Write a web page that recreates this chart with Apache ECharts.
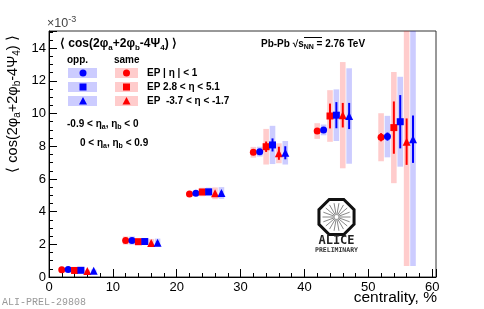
<!DOCTYPE html>
<html><head><meta charset="utf-8">
<script src="https://cdn.jsdelivr.net/npm/echarts@6/dist/echarts.min.js"></script>
<style>html,body{margin:0;padding:0;background:#fff}#c{width:484px;height:309px}</style>
</head><body><div id="c"></div>
<script>
// ---------------- data ----------------
const xTickLabels = ['0','10','20','30','40','50','60'];
const yTickLabels = ['0','2','4','6','8','10','12','14'];

// same-sign (red): EP |eta|<1 circles, EP 2.8<eta<5.1 squares, EP -3.7<eta<-1.7 triangles
const xSameEta1 = [2, 12, 22, 32, 42, 52];
const ySameEta1 = [0.44, 2.23, 5.08, 7.63, 8.93, 8.55];
const statSameEta1 = [0.02, 0.04, 0.06, 0.08, 0.15, 0.25];
const sysSameEta1 = [0.08, 0.25, 0.06, 0.33, 0.48, 1.47];

const xOppEta1 = [3, 13, 23, 33, 43, 53];
const yOppEta1 = [0.46, 2.23, 5.12, 7.67, 9.0, 8.59];
const statOppEta1 = [0.02, 0.04, 0.06, 0.08, 0.15, 0.25];
const sysOppEta1 = [0.08, 0.25, 0.06, 0.3, 0.33, 1.27];

const xSameEta2 = [4, 14, 24, 34, 44, 54];
const ySameEta2 = [0.4, 2.16, 5.2, 7.97, 9.85, 9.14];
const statSameEta2 = [0.04, 0.07, 0.1, 0.32, 0.76, 1.6];
const sysSameEta2 = [0.08, 0.2, 0.26, 1.09, 1.58, 3.4];

const xOppEta2 = [5, 15, 25, 35, 45, 55];
const yOppEta2 = [0.41, 2.17, 5.21, 8.08, 9.9, 9.5];
const statOppEta2 = [0.04, 0.07, 0.1, 0.4, 0.8, 1.63];
const sysOppEta2 = [0.08, 0.2, 0.26, 1.17, 1.58, 2.75];

const xSameEta3 = [6, 16, 26, 36, 46, 56];
const ySameEta3 = [0.36, 2.08, 5.12, 7.57, 9.9, 8.28];
const statSameEta3 = [0.05, 0.1, 0.12, 0.4, 0.75, 1.42];
const sysSameEta3 = [0.08, 0.25, 0.36, 0.61, 3.25, 7.6];

const xOppEta3 = [7, 17, 27, 37, 47, 57];
const yOppEta3 = [0.38, 2.1, 5.14, 7.6, 9.85, 8.43];
const statOppEta3 = [0.05, 0.1, 0.12, 0.4, 0.8, 1.45];
const sysOppEta3 = [0.08, 0.25, 0.36, 0.72, 2.92, 7.75];

// ---------------- chart ----------------
const FF = "'Liberation Sans', Arial, Helvetica, sans-serif";
const RED = '#ff0000', BLUE = '#0000ff';
const RED_BOX = 'rgba(255,0,0,0.2)', BLUE_BOX = 'rgba(0,0,255,0.2)';

const groups = [
  {x: xSameEta1, y: ySameEta1, stat: statSameEta1, sys: sysSameEta1, c: RED, box: RED_BOX, sym: 'circle', size: 7},
  {x: xOppEta1, y: yOppEta1, stat: statOppEta1, sys: sysOppEta1, c: BLUE, box: BLUE_BOX, sym: 'circle', size: 7},
  {x: xSameEta2, y: ySameEta2, stat: statSameEta2, sys: sysSameEta2, c: RED, box: RED_BOX, sym: 'rect', size: 7},
  {x: xOppEta2, y: yOppEta2, stat: statOppEta2, sys: sysOppEta2, c: BLUE, box: BLUE_BOX, sym: 'rect', size: 7},
  {x: xSameEta3, y: ySameEta3, stat: statSameEta3, sys: sysSameEta3, c: RED, box: RED_BOX, sym: 'triangle', size: 8},
  {x: xOppEta3, y: yOppEta3, stat: statOppEta3, sys: sysOppEta3, c: BLUE, box: BLUE_BOX, sym: 'triangle', size: 8}
];

const series = [];
groups.forEach(g => {
  series.push({
    type: 'custom', clip: true, z: 1, silent: true,
    data: g.x.map((x, i) => [x, g.y[i], g.sys[i]]),
    renderItem(params, api) {
      const x = api.value(0), y = api.value(1), e = api.value(2);
      const p1 = api.coord([x - 0.44, y + e]);
      const p2 = api.coord([x + 0.44, y - e]);
      return {type: 'rect', shape: {x: p1[0], y: p1[1], width: p2[0] - p1[0], height: p2[1] - p1[1]},
              style: {fill: g.box}};
    }
  });
});
groups.forEach(g => {
  series.push({
    type: 'custom', clip: true, z: 2, silent: true,
    data: g.x.map((x, i) => [x, g.y[i], g.stat[i]]),
    renderItem(params, api) {
      const x = api.value(0), y = api.value(1), e = api.value(2);
      const p1 = api.coord([x, y + e]);
      const p2 = api.coord([x, y - e]);
      return {type: 'line', shape: {x1: p1[0], y1: p1[1], x2: p2[0], y2: p2[1]},
              style: {stroke: g.c, lineWidth: 2}};
    }
  });
});
groups.forEach(g => {
  series.push({
    type: 'scatter', z: 3, silent: true, clip: true,
    symbol: g.sym, symbolSize: g.size,
    itemStyle: {color: g.c, opacity: 1},
    data: g.x.map((x, i) => [x, g.y[i]])
  });
});

function sub(main, s) { return main; }
const richB10 = {
  n: {fontSize: 10, fontWeight: 'bold', fontFamily: FF, fill: '#000'},
  s: {fontSize: 7, fontWeight: 'bold', fontFamily: FF, fill: '#000', padding: [6, 0, 0, 0]}
};
const richB12 = {
  n: {fontSize: 12, fontWeight: 'bold', fontFamily: FF, fill: '#000'},
  s: {fontSize: 8, fontWeight: 'bold', fontFamily: FF, fill: '#000', padding: [7, 0, 0, 0]}
};
const richT = {
  n: {fontSize: 14.5, fontFamily: FF, fill: '#000'},
  s: {fontSize: 10, fontFamily: FF, fill: '#000', padding: [9, 0, 0, 0]}
};

function txt(x, y, text, rich, extra) {
  return Object.assign({type: 'text', x: x, y: y, silent: true,
    style: {text: text, rich: rich, textAlign: 'left', textVerticalAlign: 'middle'}}, extra || {});
}
function bold(x, y, text, size) {
  return {type: 'text', x: x, y: y, silent: true,
    style: {text: text, font: 'bold ' + size + 'px ' + FF, fill: '#000', textAlign: 'left', textVerticalAlign: 'middle'}};
}

const graphic = [];
// y-axis title
graphic.push(txt(13, 104, '{n|⟨ cos(2φ}{s|a}{n|+2φ}{s|b}{n|-4Ψ}{s|4}{n|) ⟩}', richT,
  {rotation: Math.PI / 2, style: {text: '{n|⟨ cos(2φ}{s|a}{n|+2φ}{s|b}{n|-4Ψ}{s|4}{n|) ⟩}', rich: richT, textAlign: 'center', textVerticalAlign: 'middle'}}));
// x10^-3
graphic.push({type: 'text', x: 47, y: 24, silent: true,
  style: {text: '{n|×10}{p|-3}', rich: {n: {fontSize: 12.5, fontFamily: FF, fill: '#444'}, p: {fontSize: 9, fontFamily: FF, fill: '#444', padding: [0, 0, 8, 0]}},
          textAlign: 'left', textVerticalAlign: 'middle'}});
// header
graphic.push(txt(60, 44, '{n|⟨ cos(2φ}{s|a}{n|+2φ}{s|b}{n|-4Ψ}{s|4}{n|) ⟩}', richB12));
graphic.push(bold(67, 60, 'opp.', 10));
graphic.push(bold(114, 60, 'same', 10));
// legend rows
const rowsY = [73, 87, 101];
const syms = ['circle', 'rect', 'tri'];
rowsY.forEach((ry, i) => {
  graphic.push({type: 'rect', silent: true, shape: {x: 68, y: ry - 5, width: 29, height: 10}, style: {fill: BLUE_BOX}});
  graphic.push({type: 'rect', silent: true, shape: {x: 115, y: ry - 5, width: 23, height: 10}, style: {fill: RED_BOX}});
  [[83, BLUE], [126.5, RED]].forEach(([cx, col]) => {
    if (syms[i] === 'circle') graphic.push({type: 'circle', silent: true, shape: {cx: cx, cy: ry, r: 3.5}, style: {fill: col}});
    else if (syms[i] === 'rect') graphic.push({type: 'rect', silent: true, shape: {x: cx - 3.5, y: ry - 3.5, width: 7, height: 7}, style: {fill: col}});
    else graphic.push({type: 'polygon', silent: true, shape: {points: [[cx, ry - 4], [cx + 4, ry + 3.5], [cx - 4, ry + 3.5]]}, style: {fill: col}});
  });
});
graphic.push(txt(147, 73, '{n|EP | η | < 1}', richB10));
graphic.push(txt(147, 87, '{n|EP 2.8 < η < 5.1}', richB10));
graphic.push(txt(147, 101, '{n|EP  -3.7 < η < -1.7}', richB10));
graphic.push(txt(67, 124, '{n|-0.9 < η}{s|a}{n|, η}{s|b}{n| < 0}', richB10));
graphic.push(txt(80, 143, '{n|0 < η}{s|a}{n|, η}{s|b}{n| < 0.9}', richB10));
// Pb-Pb
graphic.push(txt(261, 44, '{n|Pb-Pb √}{n|s}{s|NN}{n| = 2.76 TeV}', richB10));
graphic.push({type: 'line', silent: true, shape: {x1: 304, y1: 37.5, x2: 322, y2: 37.5}, style: {stroke: '#000', lineWidth: 1}});
// x-axis title
graphic.push({type: 'text', x: 437, y: 298, silent: true,
  style: {text: 'centrality, %', font: '15.5px ' + FF, fill: '#000', textAlign: 'right', textVerticalAlign: 'middle'}});
// ALI-PREL
graphic.push({type: 'text', x: 2, y: 302, silent: true,
  style: {text: 'ALI-PREL-29808', font: '10px "Liberation Mono", "DejaVu Sans Mono", monospace', fill: '#999', textAlign: 'left', textVerticalAlign: 'middle'}});
// ALICE logo
(function () {
  const cx = 336.5, cy = 217, R = 19;
  const pts = [];
  for (let k = 0; k < 8; k++) {
    const a = (22.5 + 45 * k) * Math.PI / 180;
    pts.push([cx + R * Math.cos(a), cy + R * Math.sin(a)]);
  }
  graphic.push({type: 'polygon', silent: true, shape: {points: pts}, style: {fill: '#fff', stroke: '#111', lineWidth: 3}});
  for (let k = 0; k < 18; k++) {
    const a = k * Math.PI * 2 / 18;
    graphic.push({type: 'line', silent: true,
      shape: {x1: cx + 2 * Math.cos(a), y1: cy + 2 * Math.sin(a), x2: cx + 14 * Math.cos(a), y2: cy + 14 * Math.sin(a)},
      style: {stroke: '#888', lineWidth: 1}});
  }
  graphic.push({type: 'text', x: cx, y: 240.5, silent: true,
    style: {text: 'ALICE', font: 'bold 12px "DejaVu Sans Mono", monospace', fill: '#222', textAlign: 'center', textVerticalAlign: 'middle'}});
  graphic.push({type: 'text', x: cx, y: 250.5, silent: true,
    style: {text: 'PRELIMINARY', font: 'bold 6.5px "DejaVu Sans Mono", monospace', fill: '#333', textAlign: 'center', textVerticalAlign: 'middle'}});
})();

const chart = echarts.init(document.getElementById('c'), null, {renderer: 'canvas'});
chart.setOption({
  animation: false,
  backgroundColor: '#fff',
  grid: {left: 49, right: 48, top: 31, bottom: 32, show: true, borderColor: '#333', borderWidth: 1, backgroundColor: 'transparent'},
  xAxis: {
    type: 'value', min: 0, max: 60.6, interval: 10,
    axisLine: {show: true, lineStyle: {color: '#000', width: 1}},
    axisTick: {show: true, inside: true, length: 8, lineStyle: {color: '#000'}},
    minorTick: {show: true, splitNumber: 5, length: 4, lineStyle: {color: '#000'}},
    splitLine: {show: false}, minorSplitLine: {show: false},
    axisLabel: {fontSize: 13, color: '#000', fontFamily: FF, margin: 4,
      formatter: v => { const i = Math.round(v / 10); return Math.abs(v - i * 10) < 1e-6 ? (xTickLabels[i] || '') : ''; }}
  },
  yAxis: {
    type: 'value', min: 0, max: 15.05, interval: 2,
    axisLine: {show: true, lineStyle: {color: '#000', width: 1}},
    axisTick: {show: true, inside: true, length: 8, lineStyle: {color: '#000'}},
    minorTick: {show: true, splitNumber: 4, length: 4, lineStyle: {color: '#000'}},
    splitLine: {show: false}, minorSplitLine: {show: false},
    axisLabel: {fontSize: 13, color: '#000', fontFamily: FF, margin: 3,
      formatter: v => { const i = Math.round(v / 2); return Math.abs(v - i * 2) < 1e-6 ? (yTickLabels[i] || '') : ''; }}
  },
  series: series,
  graphic: graphic
});
</script></body></html>
